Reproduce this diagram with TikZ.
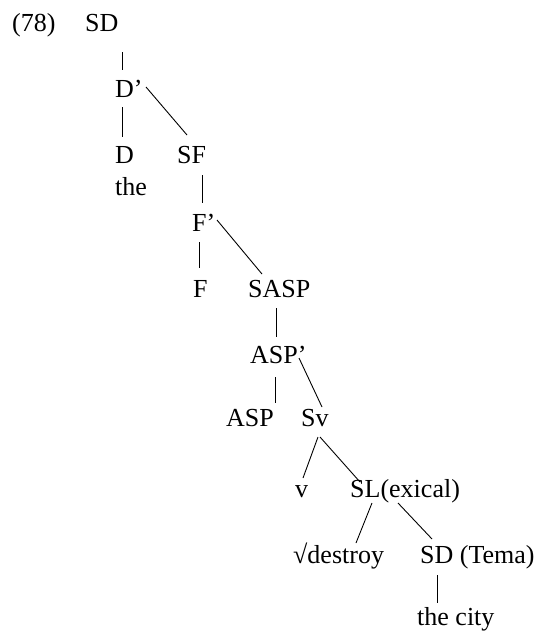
\documentclass[tikz,border=0pt]{standalone}
\usepackage{fontspec}
\setmainfont{Liberation Serif}
\usetikzlibrary{calc}
\tikzset{
  lbl/.style={anchor=base west, inner sep=0pt, font=\fontsize{26}{30}\selectfont},
  br/.style={line width=0.9pt}
}
\begin{document}
\begin{tikzpicture}[x=1pt,y=-1pt]
\useasboundingbox (0,0) rectangle (547,638);
\node[lbl] (ex) at (12,31) {(78)};
\node[lbl] (SD) at (85,31) {SD};
\node[lbl] (Dp) at (115,97) {D’};
\node[lbl] (D) at (115,163) {D};
\node[lbl] (SF) at (177,163) {SF};
\node[lbl] (the) at (115,195) {the};
\node[lbl] (Fp) at (192,231) {F’};
\node[lbl] (F) at (193,297) {F};
\node[lbl] (SASP) at (248,297) {SASP};
\node[lbl] (ASPp) at (250,363) {ASP’};
\node[lbl] (ASP) at (226,426) {ASP};
\node[lbl] (Sv) at (301,426) {Sv};
\node[lbl] (v) at (295,497) {v};
\node[lbl] (SL) at (350,497) {SL(exical)};
\node[lbl] (root) at (293,563) {√destroy};
\node[lbl] (SDt) at (420,563) {SD (Tema)};
\node[lbl] (city) at (417,625) {the city};

\draw[br] ($(SD.base west)+(37,21)$) -- ($(Dp.base west)+(7,-27)$);
\draw[br] ($(Dp.base west)+(7,10)$) -- ($(D.base west)+(7,-26)$);
\draw[br] ($(Dp.base west)+(31,-10)$) -- ($(SF.base west)+(10,-28)$);
\draw[br] ($(SF.base west)+(25,12)$) -- ($(Fp.base west)+(10,-28)$);
\draw[br] ($(Fp.base west)+(7,11)$) -- ($(F.base west)+(6,-29)$);
\draw[br] ($(Fp.base west)+(25,-11)$) -- ($(SASP.base west)+(14,-23)$);
\draw[br] ($(SASP.base west)+(28,11)$) -- ($(ASPp.base west)+(26,-26)$);
\draw[br] ($(ASPp.base west)+(25,14)$) -- ($(ASP.base west)+(49,-23)$);
\draw[br] ($(ASPp.base west)+(49,-5)$) -- ($(Sv.base west)+(21,-19)$);
\draw[br] ($(Sv.base west)+(17,11)$) -- ($(v.base west)+(8,-19)$);
\draw[br] ($(Sv.base west)+(19,11)$) -- ($(SL.base west)+(10,-15)$);
\draw[br] ($(SL.base west)+(22,6)$) -- ($(root.base west)+(63,-20)$);
\draw[br] ($(SL.base west)+(48,6)$) -- ($(SDt.base west)+(12,-24)$);
\draw[br] ($(SDt.base west)+(17,12)$) -- ($(city.base west)+(20,-22)$);
\end{tikzpicture}
\end{document}
